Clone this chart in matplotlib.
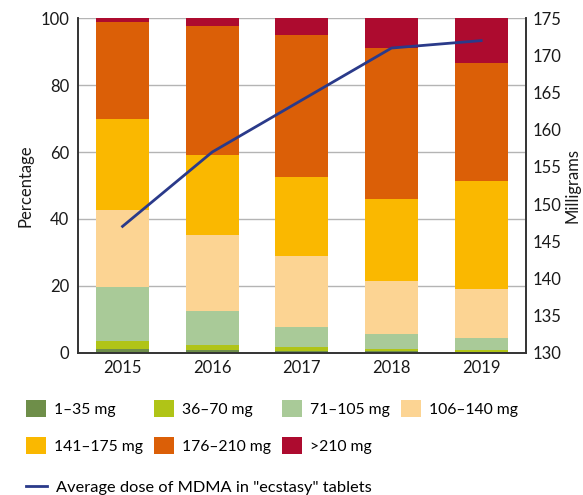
import matplotlib.pyplot as plt
from matplotlib.patches import Patch
from matplotlib.lines import Line2D
import numpy as np

plt.rcParams['font.family'] = ['Lato', 'DejaVu Sans']

years = ['2015', '2016', '2017', '2018', '2019']
labels = ['1–35 mg', '36–70 mg', '71–105 mg', '106–140 mg',
          '141–175 mg', '176–210 mg', '>210 mg']
colors = ['#6e8e49', '#b0c417', '#a9ca98', '#fcd493',
          '#fab800', '#db5f07', '#ad0b2f']

# share of tablets (%) per dose band, one list per band
d1_35 = [1.2, 0.8, 0.5, 0.4, 0.3]
d36_70 = [2.4, 1.5, 1.2, 0.7, 0.5]
d71_105 = [16.1, 10.2, 6.0, 4.5, 3.6]
d106_140 = [23.0, 22.7, 21.2, 15.8, 14.6]
d141_175 = [27.3, 23.9, 23.6, 24.6, 32.4]
d176_210 = [29.0, 38.7, 42.5, 45.0, 35.2]
d210_up = [1.0, 2.2, 5.0, 9.0, 13.4]

avg_dose = [147, 157, 164, 171, 172]

series = [d1_35, d36_70, d71_105, d106_140, d141_175, d176_210, d210_up]

fs = 12
lfs = 11.3
txt = '#1a1a1a'

fig = plt.figure(figsize=(5.83, 4.95), dpi=100)
ax = fig.add_axes([0.1333, 0.2875, 0.7689, 0.6755])

x = np.arange(len(years))
bottom = np.zeros(len(years))
for vals, c in zip(series, colors):
    ax.bar(x, vals, bottom=bottom, width=0.59, color=c, zorder=2)
    bottom += np.array(vals)

ax.set_xlim(-0.5, 4.5)
ax.set_ylim(0, 100)
ax.set_yticks(range(0, 101, 20))
ax.set_xticks(x)
ax.set_xticklabels(years)
ax.grid(axis='y', color='#b4b4b4', linewidth=1, zorder=0)
ax.set_axisbelow(True)
ax.tick_params(length=0, labelsize=fs, colors=txt)
ax.tick_params(axis='y', pad=6)
ax.tick_params(axis='x', pad=5)
ax.spines['top'].set_visible(False)
for s in ['left', 'bottom', 'right']:
    ax.spines[s].set_color('#333333')
    ax.spines[s].set_linewidth(1.2)
ax.set_ylabel('Percentage', fontsize=fs, color=txt, labelpad=5)

ax2 = ax.twinx()
ax2.plot(x, avg_dose, color='#2a3a8a', linewidth=2, zorder=5)
ax2.set_ylim(130, 175)
ax2.set_yticks(range(130, 176, 5))
ax2.tick_params(length=0, labelsize=fs, colors=txt, pad=5)
ax2.spines['top'].set_visible(False)
for s in ['left', 'bottom', 'right']:
    ax2.spines[s].set_color('#333333')
    ax2.spines[s].set_linewidth(1.2)
ax2.set_ylabel('Milligrams', fontsize=fs, color=txt, labelpad=2)

# legend is filled column by column, so reorder to read row by row
order = [0, 4, 1, 5, 2, 6, 3]
handles = [Patch(facecolor=colors[i], edgecolor='none') for i in order]
fig.legend(handles, [labels[i] for i in order], ncol=4, loc='upper left',
           bbox_to_anchor=(0.0446, 0.192), frameon=False,
           fontsize=lfs, handlelength=1.28, handleheight=1.28,
           handletextpad=0.5, labelspacing=1.28, columnspacing=0.7,
           borderaxespad=0, borderpad=0)

line_h = [Line2D([0], [0], color='#2a3a8a', linewidth=2)]
fig.legend(line_h, ['Average dose of MDMA in "ecstasy" tablets'],
           loc='upper left', bbox_to_anchor=(0.0446, 0.03), frameon=False,
           fontsize=lfs + 0.5, handlelength=1.3, handletextpad=0.5,
           borderaxespad=0, borderpad=0)

fig.savefig('out.png', dpi=100)
